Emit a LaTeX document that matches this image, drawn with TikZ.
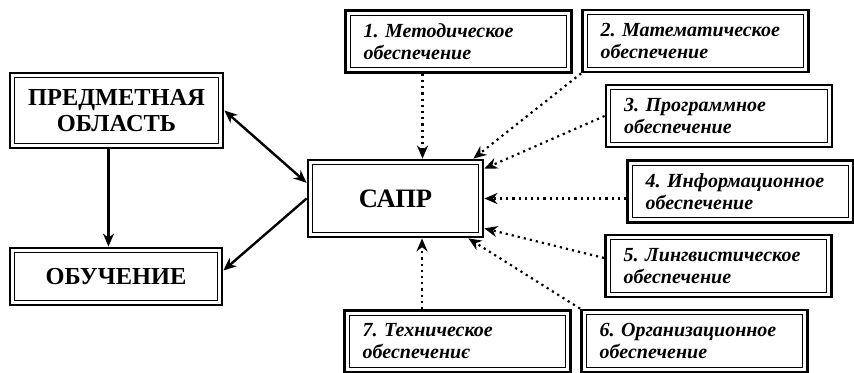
\documentclass[tikz,border=0pt]{standalone}
\usepackage{fontspec}
\setmainfont{Liberation Serif}
\usetikzlibrary{arrows.meta,positioning,calc}

\begin{document}
\begin{tikzpicture}[x=0.5pt,y=-0.5pt,>={Stealth[length=6.5pt,width=5.5pt]},
  framebox/.style={draw,line width=1.4pt,inner sep=0pt,
    path picture={\draw[line width=0.6pt]
      ([shift={(2.4pt,2.4pt)}]path picture bounding box.south west) rectangle
      ([shift={(-2.4pt,-2.4pt)}]path picture bounding box.north east);}},
  mainbox/.style={framebox,align=center,
    font=\bfseries\fontsize{12.2}{13}\selectfont},
  numbox/.style={framebox,align=left,text width=95pt,inner xsep=9pt,
    minimum height=31pt,font=\frenchspacing\bfseries\itshape\fontsize{10}{11}\selectfont},
  solidarr/.style={->,line width=1.2pt},
  dotarr/.style={->,line width=1.1pt,dotted}]
  \useasboundingbox (0,0) rectangle (854,373);

  % left part
  \node[mainbox,minimum width=106.5pt,minimum height=37.5pt] (pred) at (116.5,110.5) {ПРЕДМЕТНАЯ\\ОБЛАСТЬ};
  \node[mainbox,minimum width=106pt,minimum height=28.5pt] (obuch) at (116,276.5) {ОБУЧЕНИЕ};
  \node[mainbox,minimum width=87.5pt,minimum height=38.5pt,
        font=\bfseries\fontsize{13.3}{15}\selectfont] (sapr) at (395.5,198.5) {САПР};

  % kinds of support
  \node[numbox] (m1) at (458.5,41.5) {1. Методическое\\обеспечение};
  \node[numbox] (m2) at (695.5,41)   {2. Математическое\\обеспечение};
  \node[numbox] (m3) at (719,116)    {3. Программное\\обеспечение};
  \node[numbox] (m4) at (740.5,191.5){4. Информационное\\обеспечение};
  \node[numbox] (m5) at (718.5,266)  {5. Лингвистическое\\обеспечение};
  \node[numbox] (m6) at (694.5,341)  {6. Организационное\\обеспечение};
  \node[numbox] (m7) at (457.5,341.5){7. Техническое\\обеспечениє};

  \draw[solidarr,<->] (pred.east) -- (sapr.170);
  \draw[solidarr] (sapr.west) -- ([yshift=3pt]obuch.east);
  \draw[solidarr] ([xshift=-4pt]pred.south) -- ([xshift=-4pt]pred.south |- obuch.north);

  \draw[dotarr] ([xshift=-18pt]m1.south) -- ([xshift=-18pt]m1.south |- sapr.north);
  \draw[dotarr] (m2.south west) -- ([xshift=-5.5pt]sapr.north east);
  \draw[dotarr] (m3.west) -- ([yshift=-5pt]sapr.north east);
  \draw[dotarr] (m4.west |- sapr.east) -- (sapr.east);
  \draw[dotarr] ([yshift=4pt]m5.west) -- ([yshift=5pt]sapr.south east);
  \draw[dotarr] (m6.north west) -- ([xshift=-8pt]sapr.south east);
  \draw[dotarr] ([xshift=-17.75pt]m7.north) -- ([xshift=-17.75pt]m7.north |- sapr.south);
\end{tikzpicture}
\end{document}
